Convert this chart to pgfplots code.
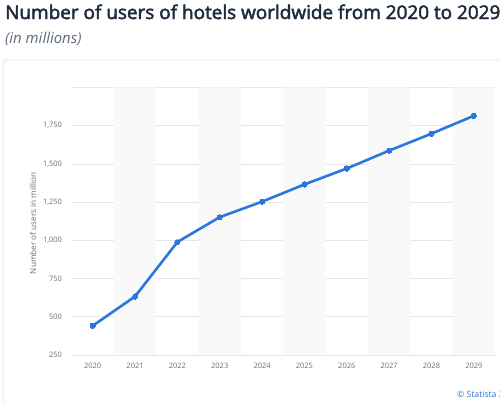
\documentclass[border=0pt]{standalone}
\usepackage{fontspec}
\setmainfont{Open Sans}
\newfontfamily\titlefont[FakeBold=2.5]{Open Sans}
\usepackage{pgfplots}
\pgfplotsset{compat=1.18}

\definecolor{titlecol}{HTML}{1D2B3D}
\definecolor{subcol}{HTML}{5F6B7D}
\definecolor{tickcol}{HTML}{707070}
\definecolor{gridcol}{HTML}{E6E6E6}
\definecolor{bandcol}{HTML}{F9F9F9}
\definecolor{linecol}{HTML}{2A78DE}
\definecolor{statcol}{HTML}{2A74D6}

\begin{document}
\begin{tikzpicture}
\begin{scope}[x=1bp,y=1bp]
\useasboundingbox (0,0) rectangle (500,402);
\fill[white] (0,0) rectangle (500,402);
% panel
\fill[gray!6] (2,-5) rectangle (510,343);
\draw[gray!18, fill=white, rounded corners=3bp] (4,-5) rectangle (510,341);

\node[anchor=base west, inner sep=0pt, text=titlecol,
      font=\fontsize{19}{23}\selectfont\titlefont] at (5,383) {Number of users of hotels worldwide from 2020 to 2029};
\node[anchor=base west, inner sep=0pt, text=subcol,
      font=\fontsize{15}{18}\selectfont\itshape] at (5,359) {(in millions)};
\node[anchor=base west, inner sep=0pt, text=statcol,
      font=\fontsize{8.7}{11}\selectfont] at (457,5) {© Statista 2024};
\end{scope}

\begin{axis}[
    at={(71.5bp,47bp)}, anchor=south west,
    scale only axis,
    width=423.5bp, height=267.5bp,
    xmin=-0.5, xmax=9.5,
    ymin=250, ymax=2000,
    xtick={0,...,9},
    xticklabels={2020,2021,2022,2023,2024,2025,2026,2027,2028,2029},
    ytick={250,500,750,1000,1250,1500,1750,2000},
    yticklabels={250,500,750,{1,000},{1,250},{1,500},{1,750},{}},
    axis line style={draw=none},
    major tick length=0pt,
    ymajorgrids=true,
    grid style={gridcol, line width=0.8bp},
    tick label style={text=tickcol, font=\fontsize{7.5}{9}\selectfont},
    xticklabel style={yshift=-5bp},
    yticklabel style={xshift=-6bp},
    ylabel={Number of users in million},
    ylabel style={text=tickcol, font=\fontsize{8.2}{10}\selectfont, xshift=-2bp},
]
\addplot[draw=none, fill=bandcol, forget plot] coordinates {(0.5,250) (1.5,250) (1.5,2000) (0.5,2000)} \closedcycle;
\addplot[draw=none, fill=bandcol, forget plot] coordinates {(2.5,250) (3.5,250) (3.5,2000) (2.5,2000)} \closedcycle;
\addplot[draw=none, fill=bandcol, forget plot] coordinates {(4.5,250) (5.5,250) (5.5,2000) (4.5,2000)} \closedcycle;
\addplot[draw=none, fill=bandcol, forget plot] coordinates {(6.5,250) (7.5,250) (7.5,2000) (6.5,2000)} \closedcycle;
\addplot[draw=none, fill=bandcol, forget plot] coordinates {(8.5,250) (9.5,250) (9.5,2000) (8.5,2000)} \closedcycle;
\addplot[color=linecol, line width=2.6bp, mark=*, mark size=2.6bp,
         mark options={fill=linecol, draw=linecol, line width=0pt}]
coordinates {
(0,441) (1,633) (2,989) (3,1152) (4,1253) (5,1366) (6,1470) (7,1587) (8,1698) (9,1815)
};
\end{axis}
\end{tikzpicture}
\end{document}
